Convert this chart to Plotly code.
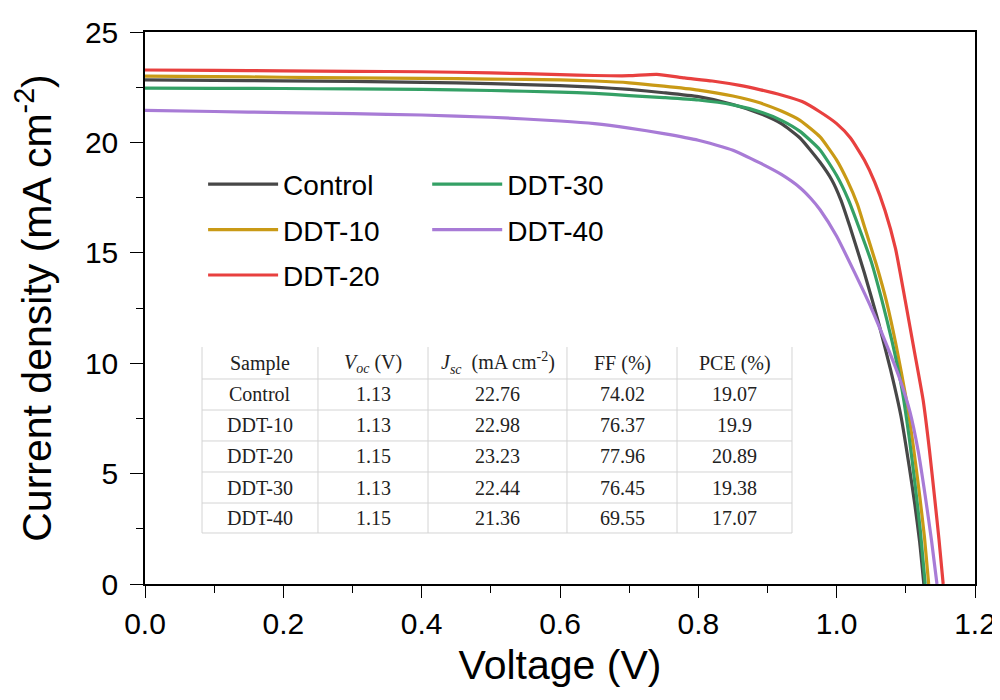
import plotly.graph_objects as go

# ---------------- data ----------------
series_names = ["Control", "DDT-10", "DDT-20", "DDT-30", "DDT-40"]
series_colors = ["#474747", "#c99a16", "#e8403f", "#34a065", "#a87bd6"]

v_control = [0, 0.1, 0.2, 0.3, 0.4, 0.5, 0.6, 0.65, 0.7, 0.75, 0.8, 0.85, 0.89, 0.92, 0.947,
             0.976, 0.993, 1.006, 1.019, 1.04, 1.06, 1.078, 1.093, 1.105, 1.113, 1.12, 1.126]
j_control = [22.83, 22.81, 22.79, 22.76, 22.72, 22.66, 22.57, 22.5, 22.4, 22.25, 22.07, 21.72,
             21.3, 20.85, 20.2, 19.1, 18.3, 17.4, 16.2, 14.1, 11.9, 9.7, 7.6, 5.3, 3.6, 1.9, 0.0]

v_ddt10 = [0, 0.1, 0.2, 0.3, 0.4, 0.5, 0.6, 0.65, 0.7, 0.75, 0.8, 0.85, 0.89, 0.92, 0.947, 0.976,
           1.0, 1.015, 1.03, 1.041, 1.057, 1.072, 1.086, 1.101, 1.111, 1.12, 1.127, 1.133]
j_ddt10 = [23.0, 22.98, 22.95, 22.92, 22.9, 22.87, 22.83, 22.78, 22.7, 22.55, 22.37, 22.1, 21.78,
           21.42, 21.0, 20.25, 19.2, 18.3, 17.2, 16.1, 14.5, 12.8, 10.8, 8.3, 6.2, 4.0, 2.1, 0.0]

v_ddt20 = [0, 0.1, 0.2, 0.3, 0.4, 0.5, 0.6, 0.65, 0.7, 0.74, 0.78, 0.82, 0.86, 0.89, 0.92, 0.95,
           0.975, 1.0, 1.02, 1.04, 1.055, 1.07, 1.085, 1.099, 1.112, 1.125, 1.134, 1.142, 1.148, 1.154]
j_ddt20 = [23.28, 23.26, 23.24, 23.22, 23.2, 23.15, 23.07, 23.03, 23.02, 23.08, 22.92, 22.78, 22.58,
           22.38, 22.15, 21.85, 21.4, 20.85, 20.2, 19.2, 18.2, 16.9, 15.2, 12.86, 10.6, 8.33, 6.1,
           3.8, 2.0, 0.0]

v_ddt30 = [0, 0.1, 0.2, 0.3, 0.4, 0.5, 0.6, 0.65, 0.7, 0.75, 0.8, 0.85, 0.89, 0.92, 0.947, 0.976,
           1.0, 1.017, 1.034, 1.05, 1.065, 1.08, 1.094, 1.105, 1.113, 1.121, 1.128]
j_ddt30 = [22.46, 22.45, 22.44, 22.42, 22.4, 22.35, 22.28, 22.22, 22.12, 22.03, 21.92, 21.7, 21.38,
           21.0, 20.5, 19.66, 18.5, 17.4, 16.0, 14.6, 12.9, 11.0, 8.9, 6.6, 4.6, 2.4, 0.0]

v_ddt40 = [0, 0.1, 0.2, 0.3, 0.4, 0.5, 0.6, 0.65, 0.7, 0.75, 0.8, 0.85, 0.889, 0.92, 0.947, 0.963,
           0.976, 1.0, 1.026, 1.05, 1.07, 1.09, 1.106, 1.118, 1.128, 1.137, 1.145]
j_ddt40 = [21.45, 21.4, 21.35, 21.3, 21.24, 21.14, 20.97, 20.85, 20.65, 20.4, 20.1, 19.65, 19.07,
           18.55, 17.95, 17.45, 16.95, 15.75, 14.1, 12.5, 11.0, 9.4, 7.8, 6.0, 4.0, 2.0, 0.0]

voltages = [v_control, v_ddt10, v_ddt20, v_ddt30, v_ddt40]
currents = [j_control, j_ddt10, j_ddt20, j_ddt30, j_ddt40]
legend_ids = ["legend", "legend", "legend", "legend2", "legend2"]

# table data
table_header = ["Sample", "<i>V</i><sub><i>oc</i></sub> (V)",
                "<i>J</i><sub><i>sc</i></sub>  (mA cm<sup>-2</sup>)", "FF (%)", "PCE (%)"]
table_sample = ["Control", "DDT-10", "DDT-20", "DDT-30", "DDT-40"]
table_voc = ["1.13", "1.13", "1.15", "1.13", "1.15"]
table_jsc = ["22.76", "22.98", "23.23", "22.44", "21.36"]
table_ff = ["74.02", "76.37", "77.96", "76.45", "69.55"]
table_pce = ["19.07", "19.9", "20.89", "19.38", "17.07"]
table_columns = [table_sample, table_voc, table_jsc, table_ff, table_pce]

# table geometry (paper coordinates of the plot area)
col_edges = [0.0687, 0.2084, 0.3410, 0.5084, 0.6410, 0.7795]
row_edges = [0.4293, 0.3714, 0.3152, 0.2591, 0.2029, 0.1467, 0.0924]

# ---------------- figure ----------------
fig = go.Figure()
for name, color, v, j, lg in zip(series_names, series_colors, voltages, currents, legend_ids):
    fig.add_trace(go.Scatter(x=v, y=j, mode="lines", name=name, legend=lg,
                             legendgroup=name,
                             line=dict(color=color, width=3.2, shape="spline", smoothing=0.5)))

serif = "Liberation Serif, Times New Roman, serif"
grid_col = "#d4d4d4"
shapes = []
shapes.append(dict(type="rect", xref="paper", yref="paper", layer="below",
                   x0=col_edges[0], x1=col_edges[-1], y0=row_edges[-1], y1=row_edges[0],
                   fillcolor="white", line=dict(width=0)))
for xe in col_edges:
    shapes.append(dict(type="line", xref="paper", yref="paper", x0=xe, x1=xe,
                       y0=row_edges[-1], y1=row_edges[0], line=dict(color=grid_col, width=1)))
for ye in row_edges[1:]:
    shapes.append(dict(type="line", xref="paper", yref="paper", x0=col_edges[0], x1=col_edges[-1],
                       y0=ye, y1=ye, line=dict(color=grid_col, width=1)))

annotations = []
for ci in range(5):
    xc = (col_edges[ci] + col_edges[ci + 1]) / 2
    yc = (row_edges[0] + row_edges[1]) / 2
    annotations.append(dict(text=table_header[ci], x=xc, y=yc, xref="paper", yref="paper",
                            showarrow=False, xanchor="center", yanchor="middle",
                            font=dict(family=serif, size=20, color="#222")))
    for ri, val in enumerate(table_columns[ci]):
        yc = (row_edges[ri + 1] + row_edges[ri + 2]) / 2
        annotations.append(dict(text=val, x=xc, y=yc, xref="paper", yref="paper",
                                showarrow=False, xanchor="center", yanchor="middle",
                                font=dict(family=serif, size=20, color="#222")))

axis_font = "Arial, Liberation Sans, sans-serif"
fig.update_layout(
    width=1000, height=700,
    margin=dict(l=137, r=33, t=24, b=124, autoexpand=False),
    paper_bgcolor="white", plot_bgcolor="white",
    font=dict(family=axis_font, color="black"),
    showlegend=True,
    shapes=shapes,
    annotations=annotations,
    legend=dict(x=0.07, y=0.769, xanchor="left", yanchor="top",
                font=dict(size=28, family=axis_font, color="black"),
                itemwidth=70, tracegroupgap=6, bgcolor="rgba(0,0,0,0)"),
    legend2=dict(x=0.34, y=0.769, xanchor="left", yanchor="top",
                 font=dict(size=28, family=axis_font, color="black"),
                 itemwidth=70, tracegroupgap=6, bgcolor="rgba(0,0,0,0)"),
    xaxis=dict(range=[0, 1.2], dtick=0.2, tickformat=".1f",
               showline=True, linecolor="black", linewidth=1.5, mirror=True,
               ticks="outside", ticklen=12, tickwidth=1.2, tickcolor="black",
               minor=dict(dtick=0.1, ticks="outside", ticklen=7, tickwidth=1.2, tickcolor="black"),
               showgrid=False, zeroline=False,
               tickfont=dict(size=30, family=axis_font),
               title=dict(text="Voltage (V)", font=dict(size=41, family=axis_font), standoff=12)),
    yaxis=dict(range=[0, 25], dtick=5,
               showline=True, linecolor="black", linewidth=1.5, mirror=True,
               ticks="outside", ticklen=13, tickwidth=1.2, tickcolor="black",
               minor=dict(dtick=2.5, ticks="outside", ticklen=7, tickwidth=1.2, tickcolor="black"),
               showgrid=False, zeroline=False, ticklabelstandoff=6,
               tickfont=dict(size=30, family=axis_font),
               title=dict(text="Current density (mA cm<sup>-2</sup>)",
                          font=dict(size=41, family=axis_font), standoff=22)),
)

fig.write_html("out.html")
